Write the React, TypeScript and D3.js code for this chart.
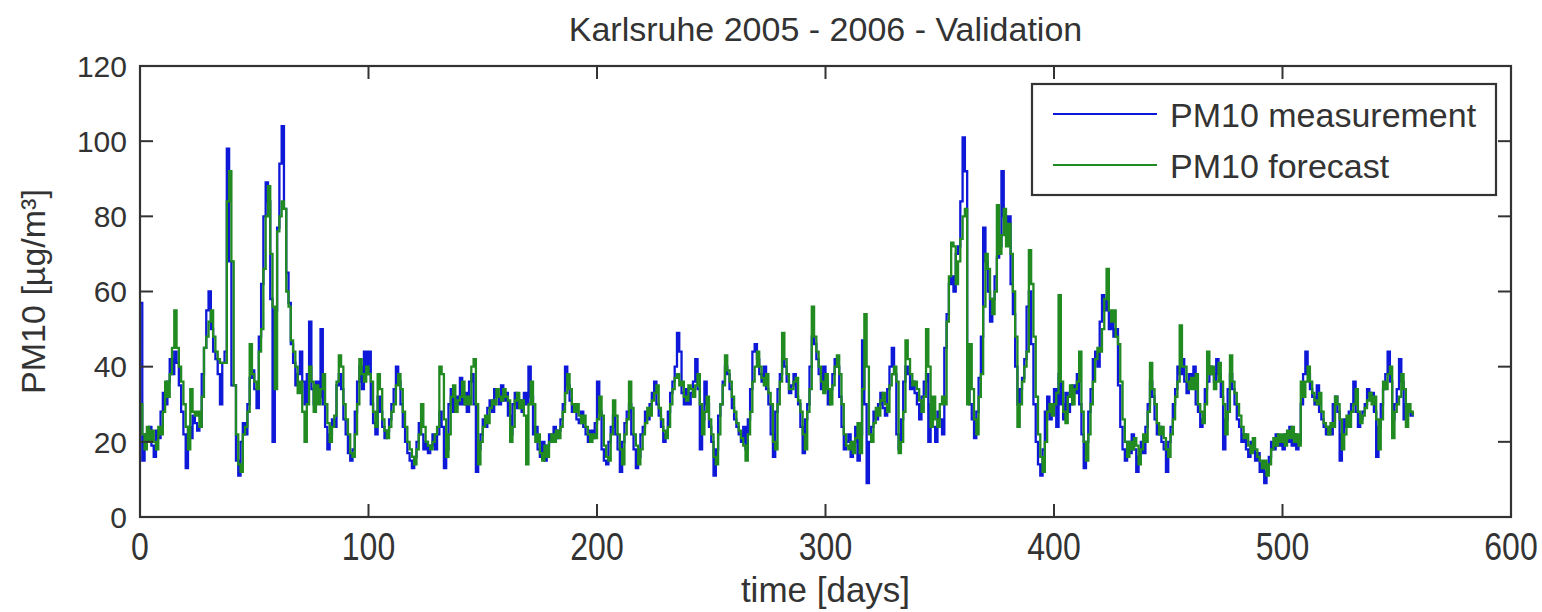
import React from 'react';
import * as d3 from 'd3';

// daily PM10 values [µg/m³], day 0..557
const measured = [
  57, 15, 22, 20, 24, 19, 16, 23, 21, 28,
  33, 30, 36, 42, 38, 44, 41, 35, 28, 22,
  13, 24, 21, 27, 25, 23, 24, 38, 45, 55,
  60, 50, 44, 42, 38, 30, 41, 44, 98, 68,
  35, 35, 15, 11, 20, 25, 22, 30, 37, 39,
  34, 29, 48, 62, 80, 89, 84, 58, 20, 55,
  77, 94, 104, 82, 65, 57, 46, 41, 35, 38,
  44, 36, 30, 38, 52, 34, 30, 36, 32, 50,
  30, 24, 18, 22, 26, 24, 35, 38, 34, 26,
  22, 17, 15, 18, 28, 36, 40, 34, 44, 38,
  44, 30, 25, 22, 32, 28, 24, 21, 23, 26,
  30, 34, 40, 36, 30, 24, 20, 17, 15, 13,
  16, 20, 25, 22, 18, 20, 17, 19, 22, 18,
  22, 28, 24, 13, 18, 30, 34, 28, 32, 30,
  37, 30, 33, 28, 36, 38, 30, 12, 18, 22,
  26, 24, 29, 31, 28, 34, 32, 30, 35, 31,
  33, 27, 22, 30, 33, 29, 31, 28, 33, 30,
  40, 32, 22, 24, 18, 16, 20, 15, 19, 22,
  20, 24, 21, 23, 26, 30, 40, 35, 31, 28,
  30, 26, 25, 28, 24, 22, 20, 23, 21, 25,
  36, 28, 18, 15, 14, 20, 24, 27, 22, 18,
  12, 20, 25, 28, 30, 22, 18, 13, 16, 22,
  24, 28, 26, 30, 33, 36, 30, 27, 24, 20,
  22, 28, 33, 36, 40, 49, 44, 33, 30, 34,
  30, 33, 36, 42, 34, 18, 26, 36, 30, 24,
  20, 11, 18, 27, 30, 36, 40, 38, 34, 29,
  26, 24, 22, 20, 24, 18, 26, 34, 44, 46,
  42, 38, 36, 40, 34, 30, 22, 16, 28, 34,
  38, 42, 40, 36, 33, 35, 38, 32, 30, 24,
  17, 26, 30, 40, 48, 46, 42, 38, 34, 40,
  36, 30, 34, 38, 42, 40, 32, 24, 18, 20,
  22, 16, 20, 24, 15, 22, 47, 30, 9, 20,
  24, 28, 26, 30, 33, 29, 27, 34, 40, 45,
  38, 22, 18, 26, 36, 40, 38, 34, 36, 33,
  30, 26, 32, 36, 38, 20, 30, 24, 20, 28,
  26, 22, 45, 54, 62, 64, 60, 70, 72, 84,
  101, 92, 44, 30, 26, 21, 28, 37, 48, 77,
  68, 60, 52, 58, 64, 69, 72, 92, 80, 76,
  80, 62, 54, 40, 30, 34, 37, 42, 56, 60,
  46, 30, 20, 14, 11, 18, 28, 32, 26, 30,
  34, 24, 38, 30, 26, 33, 28, 30, 35, 33,
  38, 30, 22, 13, 20, 28, 34, 42, 44, 40,
  52, 59, 55, 58, 50, 54, 48, 50, 35, 24,
  18, 15, 20, 17, 22, 18, 12, 16, 20, 17,
  24, 30, 36, 32, 26, 22, 24, 20, 18, 12,
  20, 24, 30, 34, 40, 38, 42, 36, 33, 38,
  35, 40, 30, 28, 24, 26, 34, 36, 40, 38,
  36, 42, 38, 32, 18, 26, 34, 38, 34, 30,
  26, 24, 20, 22, 18, 16, 20, 18, 15, 17,
  12, 14, 9, 12, 16, 20, 18, 22, 19, 21,
  18, 22, 20, 24, 19, 22, 18, 20, 30, 38,
  44, 38, 34, 32, 30, 35, 28, 26, 24, 22,
  24, 22, 30, 32, 28, 15, 22, 26, 24, 28,
  30, 36, 28, 24, 26, 28, 30, 34, 32, 33,
  28, 16, 24, 30, 34, 38, 44, 36, 26, 30,
  34, 42, 36, 26, 30, 28, 27, 28,
];

const forecast = [
  30, 22, 18, 24, 20, 23, 20, 18, 24, 22,
  28, 36, 32, 38, 45, 55, 45, 40, 36, 30,
  24, 18, 34, 28, 27, 28, 24, 32, 45, 48,
  52, 55, 48, 44, 42, 41, 41, 41, 84, 92,
  68, 35, 22, 14, 12, 22, 24, 28, 46, 38,
  36, 34, 44, 50, 66, 80, 88, 70, 56, 34,
  76, 80, 84, 82, 60, 56, 47, 44, 40, 33,
  36, 28, 20, 30, 40, 36, 28, 35, 30, 34,
  38, 30, 25, 20, 24, 27, 36, 43, 40, 30,
  26, 22, 17, 16, 22, 30, 42, 38, 36, 40,
  38, 36, 28, 24, 38, 34, 26, 23, 21, 24,
  28, 30, 35, 38, 34, 28, 24, 20, 18, 16,
  14, 18, 22, 30, 24, 20, 19, 18, 20, 22,
  24, 40, 38, 26, 16, 22, 32, 35, 28, 31,
  32, 36, 30, 32, 30, 40, 42, 30, 14, 20,
  24, 27, 25, 29, 31, 30, 34, 32, 31, 34,
  32, 31, 20, 24, 31, 33, 29, 31, 27, 14,
  30, 36, 30, 20, 22, 17, 15, 19, 16, 20,
  22, 20, 23, 21, 24, 28, 33, 38, 34, 30,
  28, 30, 27, 25, 27, 24, 22, 20, 22, 21,
  26, 32, 27, 19, 16, 15, 22, 31, 27, 22,
  18, 14, 22, 26, 36, 29, 22, 19, 14, 18,
  22, 25, 29, 27, 31, 33, 35, 29, 26, 23,
  21, 24, 30, 34, 37, 38, 35, 36, 32, 31,
  35, 34, 32, 35, 38, 30, 22, 28, 32, 26,
  22, 16, 14, 22, 30, 35, 43, 39, 36, 32,
  28, 25, 23, 21, 19, 15, 22, 28, 36, 40,
  44, 40, 37, 35, 38, 33, 30, 20, 18, 30,
  36, 49, 42, 38, 34, 34, 36, 37, 31, 28,
  22, 18, 28, 34, 56, 48, 44, 40, 36, 33,
  38, 34, 30, 35, 40, 43, 38, 30, 22, 19,
  18, 20, 17, 21, 25, 17, 34, 54, 40, 22,
  20, 25, 29, 27, 31, 33, 30, 28, 35, 38,
  40, 36, 17, 20, 28, 47, 42, 38, 35, 36,
  34, 31, 28, 32, 50, 40, 24, 32, 26, 24,
  30, 32, 30, 52, 64, 73, 72, 62, 68, 74,
  80, 82, 30, 46, 34, 26, 22, 32, 38, 56,
  70, 66, 58, 54, 60, 83, 70, 75, 82, 72,
  78, 70, 60, 48, 24, 30, 36, 40, 44, 71,
  62, 48, 32, 22, 16, 12, 20, 28, 30, 27,
  30, 33, 59, 36, 28, 25, 32, 35, 30, 34,
  36, 44, 28, 20, 15, 22, 30, 36, 42, 45,
  44, 50, 58, 66, 55, 52, 55, 48, 46, 36,
  26, 20, 16, 20, 18, 21, 19, 14, 18, 22,
  20, 28, 41, 34, 30, 25, 22, 24, 21, 18,
  16, 22, 26, 32, 36, 51, 40, 40, 36, 34,
  37, 34, 38, 30, 28, 25, 30, 44, 38, 40,
  34, 36, 41, 36, 30, 22, 28, 43, 36, 33,
  30, 27, 24, 21, 22, 19, 17, 21, 18, 16,
  15, 13, 15, 11, 14, 18, 21, 19, 22, 20,
  22, 19, 23, 21, 24, 20, 22, 19, 36, 32,
  36, 40, 36, 33, 31, 30, 33, 28, 25, 24,
  22, 25, 24, 32, 30, 26, 18, 22, 27, 24,
  28, 30, 34, 28, 25, 27, 29, 31, 33, 30,
  32, 26, 18, 26, 36, 34, 38, 40, 21, 28,
  30, 32, 38, 34, 24, 30, 28, 27,
];

const xTicks = [0, 100, 200, 300, 400, 500, 600];
const yTicks = [0, 20, 40, 60, 80, 100, 120];
const seriesNames = ['PM10 measurement', 'PM10 forecast'];
const seriesColors = ['#0d18d8', '#218a21'];

const font = '"Liberation Sans", Arial, Helvetica, sans-serif';
const ink = '#333';

export default function App() {
  const width = 1542;
  const height = 612;
  const left = 140, right = 1511, top = 66, bottom = 517;
  const tick = 13;

  const x = d3.scaleLinear().domain([0, 600]).range([left, right]);
  const y = d3.scaleLinear().domain([0, 120]).range([bottom, top]);

  const line = d3.line<number>()
    .x((_, i) => x(i))
    .y((d) => y(d))
    .curve(d3.curveStepAfter);

  const series = [measured, forecast];

  return (
    <svg width={width} height={height} style={{ position: 'absolute', left: 0, top: 0, background: '#fff' }}
      fontFamily={font}>
      <rect x={0} y={0} width={width} height={height} fill="#fff" />

      {series.map((s, i) => (
        <path key={i} d={line(s) || ''} fill="none" stroke={seriesColors[i]} strokeWidth={2.3} />
      ))}

      {/* box + ticks on all four sides */}
      <rect x={left} y={top} width={right - left} height={bottom - top} fill="none" stroke={ink} strokeWidth={2.2} />
      {xTicks.map((t) => (
        <g key={'x' + t}>
          <line x1={x(t)} x2={x(t)} y1={bottom} y2={bottom - tick} stroke={ink} strokeWidth={2} />
          <line x1={x(t)} x2={x(t)} y1={top} y2={top + tick} stroke={ink} strokeWidth={2} />
          <text transform={`translate(${x(t)},560) scale(1,1.22)`} textAnchor="middle" fontSize={32} fill={ink}>{t}</text>
        </g>
      ))}
      {yTicks.map((t) => (
        <g key={'y' + t}>
          <line x1={left} x2={left + tick} y1={y(t)} y2={y(t)} stroke={ink} strokeWidth={2} />
          <line x1={right} x2={right - tick} y1={y(t)} y2={y(t)} stroke={ink} strokeWidth={2} />
          <text x={127} y={y(t)} dy="0.36em" textAnchor="end" fontSize={30} fill={ink}>{t}</text>
        </g>
      ))}

      <text x={(left + right) / 2} y={41} textAnchor="middle" fontSize={34} fill={ink}>
        Karlsruhe 2005 - 2006 - Validation
      </text>
      <text x={(left + right) / 2} y={602} textAnchor="middle" fontSize={35} fill={ink}>time [days]</text>
      <text transform={`translate(45,${(top + bottom) / 2}) rotate(-90)`} textAnchor="middle" fontSize={34} fill={ink}>
        PM10 [µg/m³]
      </text>

      {/* legend */}
      <rect x={1032} y={84} width={464} height={111} fill="#fff" stroke={ink} strokeWidth={2.2} />
      {seriesNames.map((n, i) => (
        <g key={n}>
          <line x1={1053} x2={1157} y1={114 + i * 51} y2={114 + i * 51} stroke={seriesColors[i]} strokeWidth={2.2} />
          <text x={1170} y={127 + i * 51} fontSize={34} fill={ink}>{n}</text>
        </g>
      ))}
    </svg>
  );
}
